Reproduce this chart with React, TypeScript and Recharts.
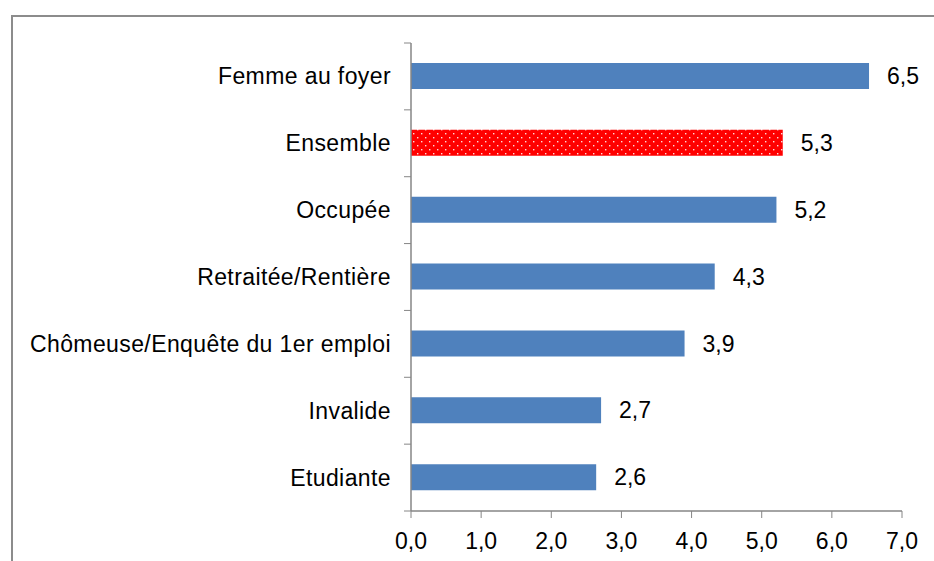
import React from 'react';
import { BarChart, Bar, XAxis, YAxis, Cell, LabelList } from 'recharts';

const categories = [
  'Femme au foyer',
  'Ensemble',
  'Occupée',
  'Retraitée/Rentière',
  'Chômeuse/Enquête du 1er emploi',
  'Invalide',
  'Etudiante',
];
const values = [6.53, 5.3, 5.21, 4.33, 3.9, 2.71, 2.64];
const xTicks = [0, 1, 2, 3, 4, 5, 6, 7];
const highlight = 'Ensemble';

const data = categories.map((c, i) => ({ name: c, value: values[i] }));

const FONT = '"Liberation Sans", Arial, sans-serif';
const AXIS = '#868686';
const fmt = (v: number) => v.toFixed(1).replace('.', ',');

const YTick = (props: any) => {
  const { x, y, payload } = props;
  const axisX = x + 20;
  const off = payload.offset || 0;
  return (
    <g>
      <line x1={axisX - 7} x2={axisX} y1={y - off} y2={y - off} stroke={AXIS} strokeWidth={1} />
      {payload.index === categories.length - 1 && (
        <line x1={axisX - 7} x2={axisX} y1={y + off} y2={y + off} stroke={AXIS} strokeWidth={1} />
      )}
      <text x={x} y={y} dy={8} textAnchor="end" fontSize={23} letterSpacing={0.4} fontFamily={FONT} fill="#000">
        {payload.value}
      </text>
    </g>
  );
};

export default function App() {
  return (
    <div style={{ position: 'absolute', left: 0, top: 0, width: 934, height: 561, overflow: 'hidden', background: '#fff' }}>
      <div
        style={{
          position: 'absolute',
          left: 11,
          top: 15,
          width: 1000,
          height: 1000,
          borderLeft: '2px solid #8c8c8c',
          borderTop: '2px solid #8c8c8c',
        }}
      />
      <div style={{ position: 'absolute', left: 0, top: 0 }}>
        <BarChart
          width={934}
          height={561}
          data={data}
          layout="vertical"
          margin={{ top: 43, right: 32, bottom: 0, left: 0 }}
        >
          <defs>
            <pattern id="dots" width="8" height="8" patternUnits="userSpaceOnUse">
              <rect width="8" height="8" fill="#ff0000" />
              <rect x="1" y="1" width="1.4" height="1.4" fill="#ffffff" opacity="0.85" />
              <rect x="5" y="5" width="1.4" height="1.4" fill="#ffffff" opacity="0.85" />
            </pattern>
          </defs>
          <XAxis
            type="number"
            domain={[0, 7]}
            ticks={xTicks}
            tickFormatter={fmt}
            height={50}
            axisLine={{ stroke: AXIS, strokeWidth: 1.5 }}
            tickLine={{ stroke: AXIS }}
            tickSize={7}
            tickMargin={15}
            tick={{ fontSize: 23, fontFamily: FONT, fill: '#000' }}
            interval={0}
          />
          <YAxis
            type="category"
            dataKey="name"
            width={411}
            axisLine={{ stroke: AXIS, strokeWidth: 1.5 }}
            tickLine={false}
            tickSize={6}
            tickMargin={14}
            tick={<YTick />}
            interval={0}
          />
          <Bar dataKey="value" barSize={26} isAnimationActive={false}>
            {data.map((d, i) => (
              <Cell key={i} fill={d.name === highlight ? 'url(#dots)' : '#4f81bd'} />
            ))}
            <LabelList
              dataKey="value"
              position="right"
              offset={18}
              formatter={(v: any) => fmt(Number(v))}
              style={{ fontSize: 23, fontFamily: FONT, fill: '#000' }}
            />
          </Bar>
        </BarChart>
      </div>
    </div>
  );
}
